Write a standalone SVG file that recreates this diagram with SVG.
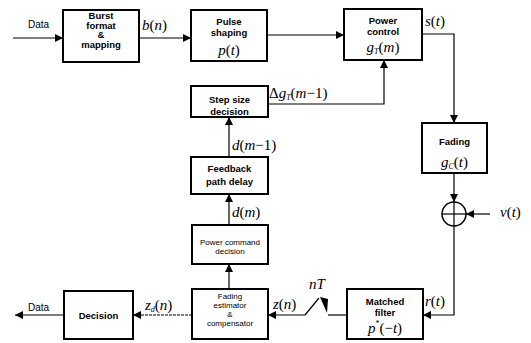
<svg xmlns="http://www.w3.org/2000/svg" width="531" height="343" viewBox="0 0 531 343">
<defs>
<marker id="ah" viewBox="0 0 10 10" refX="10" refY="5" markerWidth="9" markerHeight="8" markerUnits="userSpaceOnUse" orient="auto">
<path d="M0,0 L10,5 L0,10 z" fill="#000"/>
</marker>
</defs>
<style>
.box{fill:#fff;stroke:#000;stroke-width:2}
.ln{fill:none;stroke:#000;stroke-width:1.2}
.bt{font-family:"Liberation Sans",Arial,sans-serif;font-weight:bold;font-size:9.5px;text-anchor:middle;fill:#000}
.st{font-family:"Liberation Sans",Arial,sans-serif;font-size:8px;text-anchor:middle;fill:#000}
.lb{font-family:"Liberation Sans",Arial,sans-serif;font-size:10px;fill:#000}
.m{font-family:"Liberation Serif","Times New Roman",serif;font-style:italic;font-size:15px;fill:#000}
.mu{font-style:normal}
</style>
<rect width="531" height="343" fill="#fff"/>
<g id="connectors">
<line class="ln" x1="13" y1="38" x2="63" y2="38" marker-end="url(#ah)"/>
<line class="ln" x1="139" y1="38" x2="191" y2="38" marker-end="url(#ah)"/>
<line class="ln" x1="267" y1="35" x2="344" y2="35" marker-end="url(#ah)"/>
<polyline class="ln" points="422,34 454,34 454,123" marker-end="url(#ah)"/>
<polyline class="ln" points="268,104 384,104 384,60" marker-end="url(#ah)"/>
<line class="ln" x1="229" y1="157" x2="229" y2="117" marker-end="url(#ah)"/>
<line class="ln" x1="229" y1="225" x2="229" y2="194" marker-end="url(#ah)"/>
<line class="ln" x1="229" y1="289" x2="229" y2="264" marker-end="url(#ah)"/>
<line class="ln" x1="454" y1="173" x2="454" y2="202" marker-end="url(#ah)"/>
<line class="ln" x1="490" y1="214" x2="466" y2="214" marker-end="url(#ah)"/>
<polyline class="ln" points="454,226 454,315 423,315" marker-end="url(#ah)"/>
<line class="ln" x1="347" y1="315" x2="328" y2="315"/>
<line class="ln" x1="305" y1="315" x2="319" y2="298"/>
<path d="M320,297 L328,299 L327,313 z" fill="#000"/>
<line class="ln" x1="305" y1="315" x2="268" y2="315" marker-end="url(#ah)"/>
<line class="ln" x1="192" y1="315" x2="133" y2="315" marker-end="url(#ah)" stroke-dasharray="3,1"/>
<line class="ln" x1="64" y1="315" x2="15" y2="315" marker-end="url(#ah)"/>
<text class="lb" x="28" y="28">Data</text>
<text class="lb" x="28" y="311">Data</text>
<text class="m" x="142" y="30">b<tspan class="mu">(</tspan>n<tspan class="mu">)</tspan></text>
<text class="m" x="425" y="26">s<tspan class="mu">(</tspan>t<tspan class="mu">)</tspan></text>
<text class="m" x="269" y="98"><tspan class="mu">Δ</tspan>g<tspan font-size="8" dy="2">T</tspan><tspan dy="-2" class="mu">(</tspan>m<tspan class="mu">−1)</tspan></text>
<text class="m" x="232" y="150">d<tspan class="mu">(</tspan>m<tspan class="mu">−1)</tspan></text>
<text class="m" x="232" y="217">d<tspan class="mu">(</tspan>m<tspan class="mu">)</tspan></text>
<text class="m" x="500" y="217">v<tspan class="mu">(</tspan>t<tspan class="mu">)</tspan></text>
<text class="m" x="425" y="306">r<tspan class="mu">(</tspan>t<tspan class="mu">)</tspan></text>
<text class="m" x="273" y="309">z<tspan class="mu">(</tspan>n<tspan class="mu">)</tspan></text>
<text class="m" x="309" y="289">nT</text>
<text class="m" x="145" y="310">z<tspan font-size="8" dy="2">d</tspan><tspan dy="-2" class="mu">(</tspan>n<tspan class="mu">)</tspan></text>
</g>
<g id="burst">
<rect class="box" x="63" y="10" width="76" height="52"/>
<text class="bt" x="101" y="19" font-size="8.5">Burst</text>
<text class="bt" x="101" y="28.5" font-size="8.5">format</text>
<text class="bt" x="101" y="38" font-size="8.5">&amp;</text>
<text class="bt" x="101" y="47.5" font-size="8.5">mapping</text>
</g>
<g id="pulse">
<rect class="box" x="191" y="10" width="76" height="51"/>
<text class="bt" x="229" y="25">Pulse</text>
<text class="bt" x="229" y="36">shaping</text>
<text class="m" x="229" y="55" text-anchor="middle" font-size="16">p<tspan class="mu">(</tspan>t<tspan class="mu">)</tspan></text>
</g>
<g id="power">
<rect class="box" x="344" y="9" width="78" height="51"/>
<text class="bt" x="383" y="24">Power</text>
<text class="bt" x="383" y="35">control</text>
<text class="m" x="383" y="52" text-anchor="middle">g<tspan font-size="8" dy="2">T</tspan><tspan dy="-2" class="mu">(</tspan>m<tspan class="mu">)</tspan></text>
</g>
<g id="step">
<rect class="box" x="191" y="86" width="77" height="31"/>
<text class="bt" x="229.5" y="103">Step size</text>
<text class="bt" x="229.5" y="115">decision</text>
</g>
<g id="feedback">
<rect class="box" x="191" y="157" width="77" height="37"/>
<text class="bt" x="229.5" y="172">Feedback</text>
<text class="bt" x="229.5" y="185">path delay</text>
</g>
<g id="pcd">
<rect class="box" x="192" y="225" width="76" height="39"/>
<text class="st" x="230" y="245">Power command</text>
<text class="st" x="230" y="254">decision</text>
</g>
<g id="fec">
<rect class="box" x="192" y="289" width="76" height="50"/>
<text class="st" x="230" y="299">Fading</text>
<text class="st" x="230" y="308">estimator</text>
<text class="st" x="230" y="317">&amp;</text>
<text class="st" x="230" y="326">compensator</text>
</g>
<g id="decision">
<rect class="box" x="64" y="291" width="69" height="48"/>
<text class="bt" x="98.5" y="319" font-size="11">Decision</text>
</g>
<g id="matched">
<rect class="box" x="347" y="289" width="76" height="50"/>
<text class="bt" x="385" y="305">Matched</text>
<text class="bt" x="385" y="316" font-size="8.5">filter</text>
<text class="m" x="385" y="333" text-anchor="middle">p<tspan class="mu" font-size="8" dy="-7">*</tspan><tspan class="mu" dy="7">(−</tspan>t<tspan class="mu">)</tspan></text>
</g>
<g id="fading">
<rect class="box" x="422" y="123" width="65" height="50"/>
<text class="bt" x="454.5" y="145" font-size="9">Fading</text>
<text class="m" x="454.5" y="167" text-anchor="middle">g<tspan font-size="8" dy="2">C</tspan><tspan dy="-2" class="mu">(</tspan>t<tspan class="mu">)</tspan></text>
</g>
<g id="sum">
<circle cx="454" cy="214" r="12" fill="#fff" stroke="#000" stroke-width="1.5"/>
<line class="ln" x1="442" y1="214" x2="466" y2="214"/>
<line class="ln" x1="454" y1="202" x2="454" y2="226"/>
</g>
</svg>
